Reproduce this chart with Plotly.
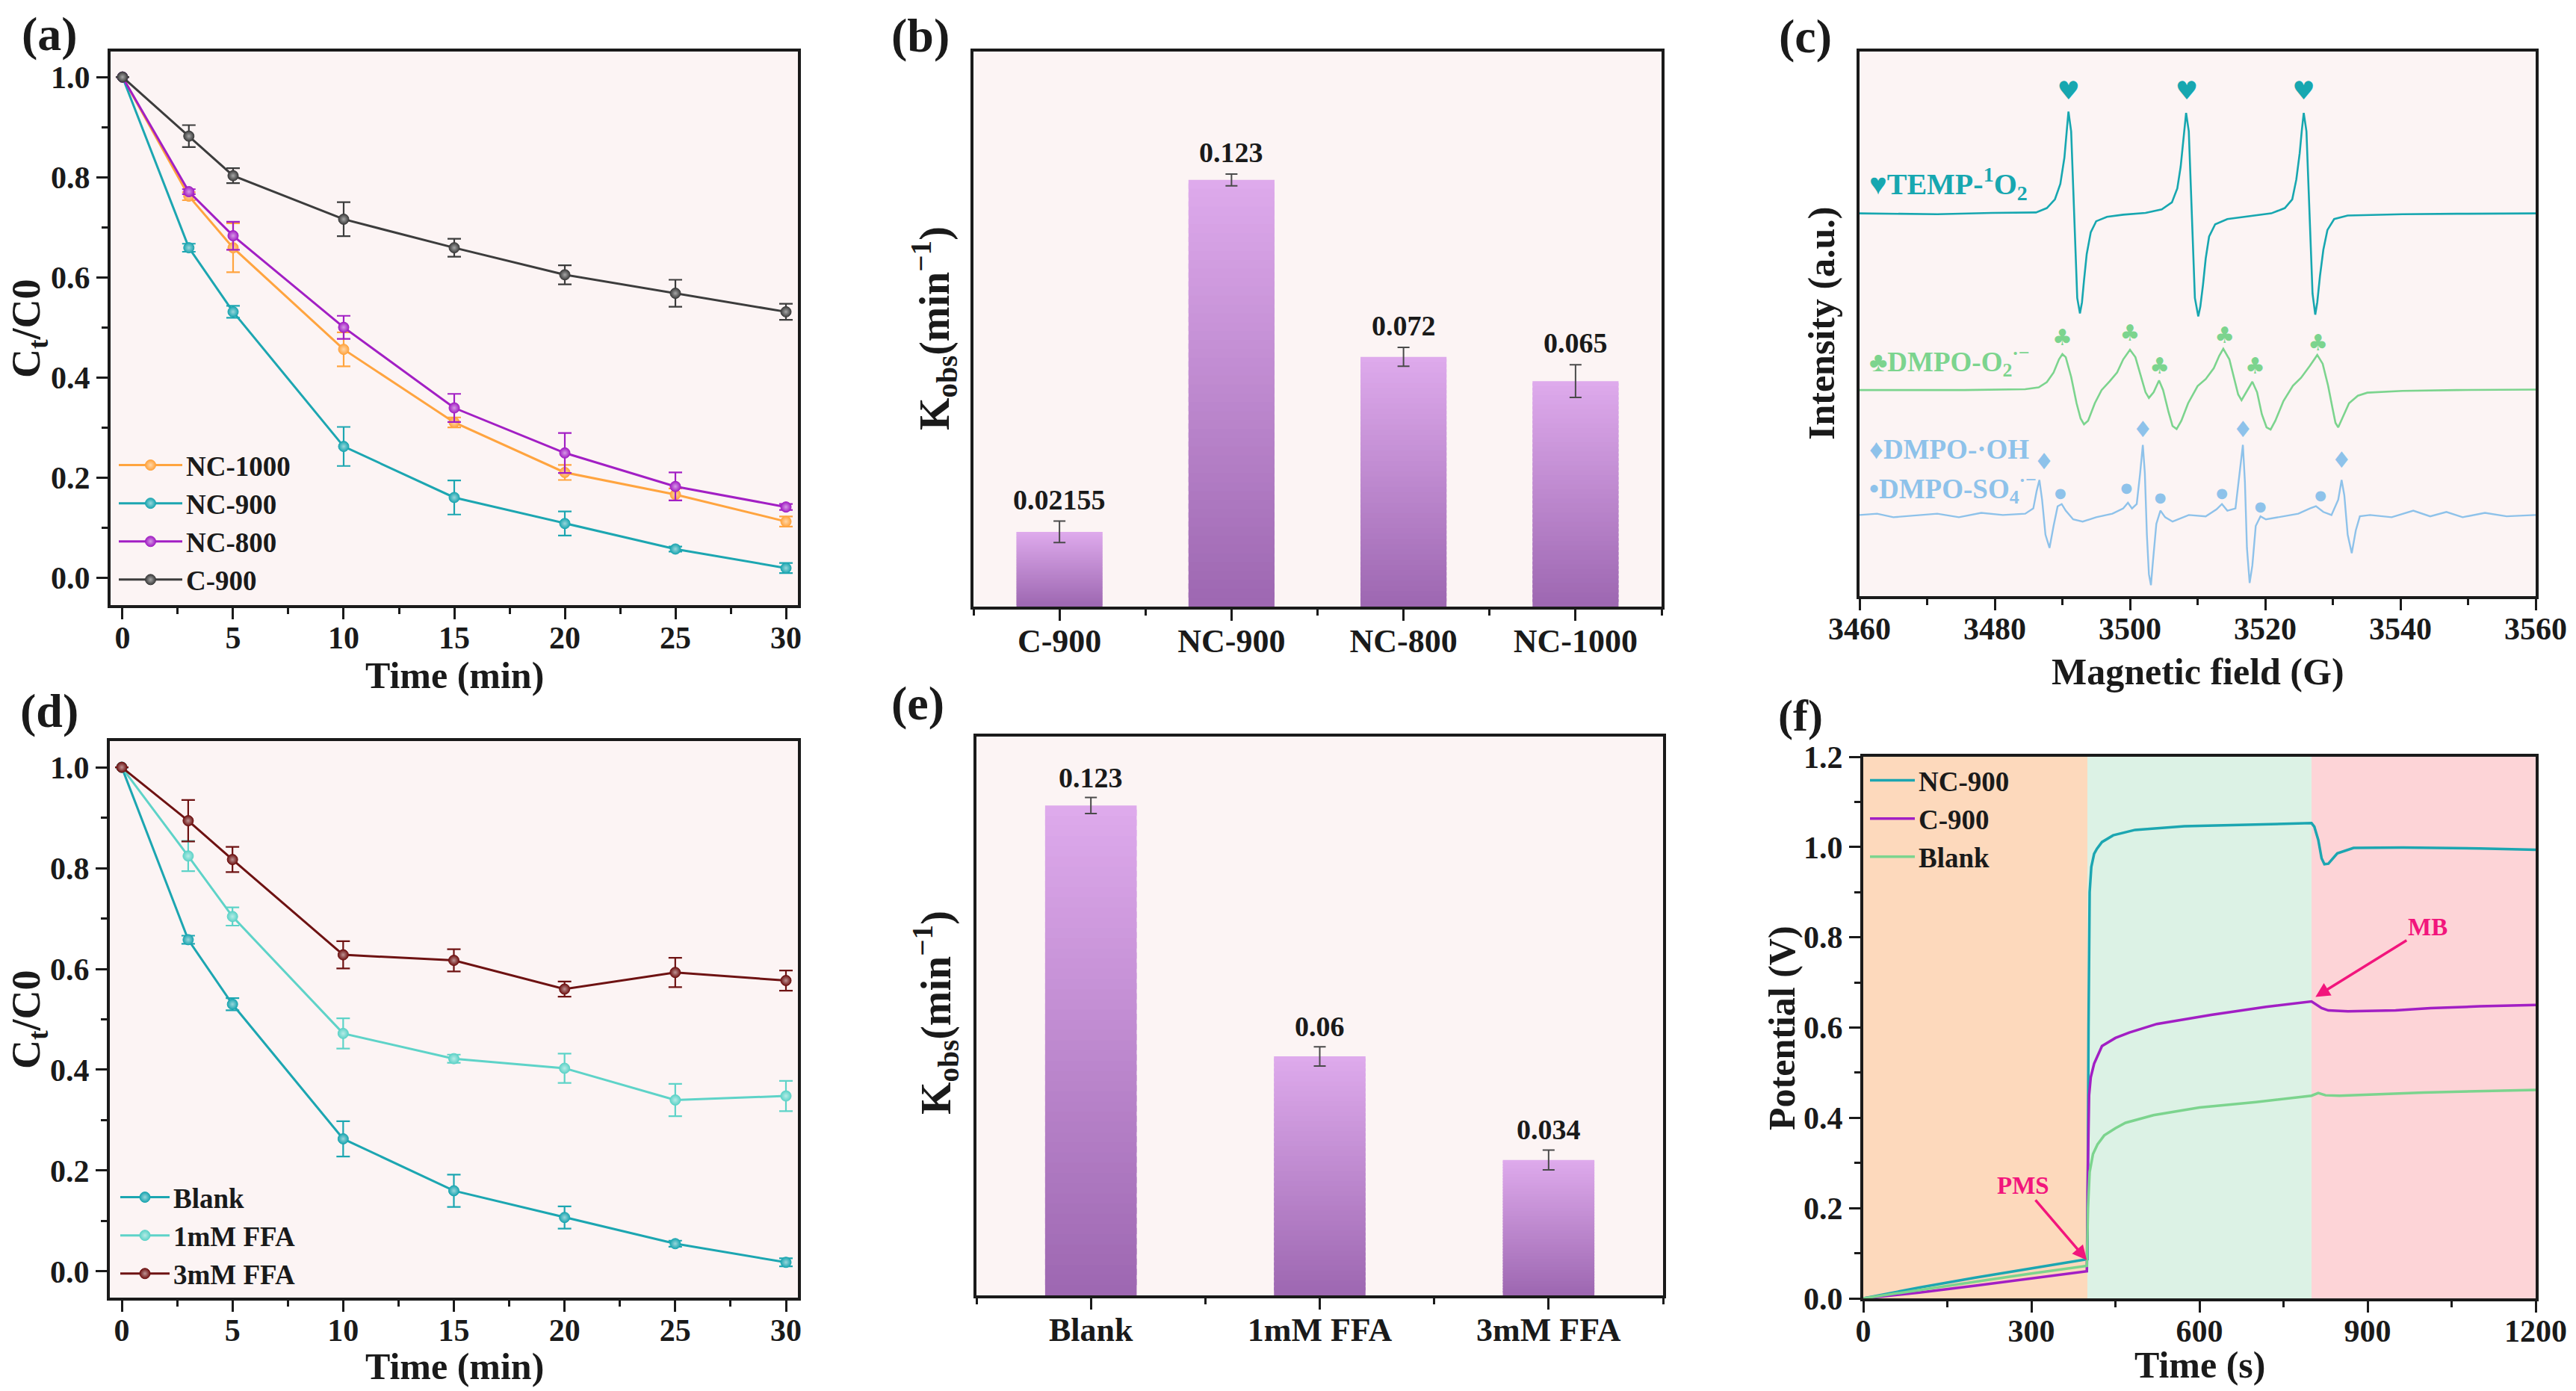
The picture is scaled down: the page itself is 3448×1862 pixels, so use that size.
import plotly.graph_objects as go

FONT = "Liberation Serif"
INK = "#1a1a1a"
W, H = 3448, 1862

# ---------------- (a) degradation curves ----------------
time_min = [0, 3, 5, 10, 15, 20, 25, 30]
a_names = ["NC-1000", "NC-900", "NC-800", "C-900"]
nc1000 = [1.0, 0.762, 0.659, 0.456, 0.310, 0.210, 0.166, 0.112]
nc1000_err = [0, 0.008, 0.049, 0.034, 0.010, 0.015, 0.012, 0.010]
nc900 = [1.0, 0.659, 0.531, 0.262, 0.160, 0.108, 0.057, 0.019]
nc900_err = [0, 0.008, 0.012, 0.039, 0.034, 0.024, 0.005, 0.010]
nc800 = [1.0, 0.771, 0.683, 0.500, 0.339, 0.249, 0.182, 0.141]
nc800_err = [0, 0.005, 0.028, 0.023, 0.028, 0.040, 0.028, 0.006]
c900 = [1.0, 0.882, 0.803, 0.716, 0.659, 0.605, 0.568, 0.531]
c900_err = [0, 0.022, 0.015, 0.034, 0.018, 0.019, 0.027, 0.016]

# ---------------- (b) rate constants ----------------
b_cats = ["C-900", "NC-900", "NC-800", "NC-1000"]
b_k = [0.02155, 0.123, 0.072, 0.065]
b_err = [0.0031, 0.0017, 0.0027, 0.0047]
b_labels = ["0.02155", "0.123", "0.072", "0.065"]

# ---------------- (c) EPR spectra ----------------
temp_G = [3460.0, 3471.5, 3479.6, 3486.1, 3487.7, 3488.9, 3489.7, 3490.3, 3490.7, 3490.9,
          3491.3, 3491.6, 3491.9, 3492.2, 3492.6, 3492.9, 3493.2, 3493.6, 3494.2, 3495.0,
          3496.6, 3499.0, 3502.3, 3504.7, 3506.2, 3507.0, 3507.5, 3507.9, 3508.3, 3508.7,
          3509.0, 3509.3, 3509.6, 3510.1, 3510.4, 3510.8, 3511.2, 3511.7, 3512.6, 3514.4,
          3517.7, 3520.9, 3522.9, 3524.0, 3524.6, 3525.1, 3525.4, 3525.7, 3526.1, 3526.4,
          3526.7, 3527.0, 3527.4, 3527.7, 3528.1, 3528.6, 3529.2, 3530.2, 3532.2, 3540.3,
          3548.4, 3560.0]
temp_I = [8.73, 8.71, 8.74, 8.75, 8.85, 9.05, 9.40, 10.0, 10.7, 11.05,
          10.6, 9.4, 8.0, 6.8, 6.45, 6.7, 7.2, 7.8, 8.3, 8.55,
          8.65, 8.70, 8.74, 8.82, 8.98, 9.3, 9.8, 10.4, 11.02, 10.6,
          9.3, 7.9, 6.8, 6.38, 6.6, 7.1, 7.7, 8.2, 8.48, 8.6,
          8.67, 8.73, 8.85, 9.05, 9.5, 10.1, 10.6, 11.02, 10.6, 9.3,
          8.0, 6.9, 6.42, 6.7, 7.3, 7.9, 8.35, 8.6, 8.68, 8.71,
          8.72, 8.73]

o2_G = [3460.0, 3475.5, 3484.5, 3486.5, 3487.7, 3488.7, 3489.5, 3490.0, 3490.5, 3491.3,
        3492.1, 3492.7, 3493.2, 3493.8, 3494.8, 3495.8, 3497.0, 3498.1, 3499.0, 3500.0,
        3500.8, 3501.6, 3502.3, 3502.8, 3503.5, 3504.3, 3504.9, 3505.7, 3506.3, 3506.9,
        3507.6, 3508.6, 3510.0, 3511.2, 3512.4, 3513.2, 3513.8, 3514.7, 3515.5, 3516.0,
        3516.5, 3517.2, 3518.1, 3518.8, 3519.5, 3520.2, 3520.8, 3521.5, 3522.7, 3524.1,
        3525.3, 3526.6, 3527.7, 3528.5, 3529.3, 3530.0, 3530.4, 3530.8, 3531.4, 3532.4,
        3533.7, 3535.1, 3540.3, 3548.4, 3560.0]
o2_I = [4.70, 4.70, 4.72, 4.76, 4.88, 5.10, 5.40, 5.52, 5.45, 5.00,
        4.40, 4.05, 3.92, 4.00, 4.40, 4.70, 4.90, 5.10, 5.40, 5.62,
        5.45, 5.00, 4.65, 4.52, 4.65, 4.92, 4.70, 4.20, 3.88, 3.81,
        4.00, 4.40, 4.79, 4.95, 5.20, 5.48, 5.64, 5.40, 4.90, 4.60,
        4.47, 4.65, 4.89, 4.65, 4.15, 3.85, 3.80, 4.00, 4.45, 4.80,
        4.98, 5.25, 5.50, 5.30, 4.80, 4.25, 3.95, 3.85, 4.05, 4.40,
        4.57, 4.64, 4.68, 4.70, 4.71]

oh_G = [3460.0, 3462.6, 3465.0, 3468.3, 3471.5, 3474.7, 3478.0, 3481.2, 3484.5, 3485.7,
        3486.2, 3486.6, 3487.0, 3487.5, 3488.1, 3488.7, 3489.3, 3489.9, 3490.5, 3491.6,
        3493.0, 3495.0, 3497.4, 3499.0, 3499.7, 3500.3, 3501.0, 3501.5, 3501.9, 3502.2,
        3502.5, 3502.8, 3503.1, 3503.4, 3503.9, 3504.5, 3505.2, 3506.3, 3508.7, 3511.2,
        3512.8, 3513.6, 3514.4, 3515.6, 3516.2, 3516.7, 3517.0, 3517.3, 3517.7, 3518.1,
        3518.6, 3519.3, 3520.1, 3522.5, 3524.9, 3526.6, 3527.5, 3528.6, 3529.8, 3530.8,
        3531.3, 3531.7, 3532.2, 3532.8, 3533.4, 3534.0, 3535.5, 3538.7, 3541.9, 3544.4,
        3546.8, 3549.2, 3552.5, 3555.7, 3560.0]
oh_I = [1.85, 1.88, 1.80, 1.84, 1.88, 1.80, 1.90, 1.85, 1.88, 2.00,
        2.40, 2.65, 2.20, 1.40, 1.10, 1.60, 2.05, 2.10, 1.95, 1.75,
        1.70, 1.80, 1.88, 2.00, 2.13, 2.00, 2.10, 2.80, 3.45, 2.80,
        1.40, 0.50, 0.25, 0.80, 1.65, 1.95, 1.80, 1.70, 1.85, 1.82,
        1.98, 2.10, 1.95, 2.00, 2.80, 3.45, 2.60, 1.10, 0.30, 0.70,
        1.60, 1.82, 1.75, 1.82, 1.88, 2.00, 2.05, 1.92, 1.85, 2.20,
        2.65, 2.30, 1.40, 0.98, 1.50, 1.82, 1.85, 1.80, 1.95, 1.82,
        1.92, 1.80, 1.90, 1.82, 1.85]

heart_G = [3490.9, 3508.4, 3525.7]
heart_I = [11.48, 11.48, 11.48]
club_G = [3490.0, 3500.0, 3504.4, 3514.0, 3518.5, 3527.8]
club_I = [5.85, 5.95, 5.20, 5.90, 5.20, 5.73]
diamond_G = [3487.3, 3501.9, 3516.7, 3531.3]
diamond_I = [3.02, 3.75, 3.75, 3.05]
dot_G = [3489.7, 3499.5, 3504.5, 3513.6, 3519.3, 3528.2]
dot_I = [2.32, 2.45, 2.23, 2.32, 2.02, 2.27]

# ---------------- (d) quenching ----------------
d_names = ["Blank", "1mM FFA", "3mM FFA"]
d_blank = [1.0, 0.658, 0.530, 0.263, 0.160, 0.107, 0.055, 0.018]
d_blank_err = [0, 0.008, 0.012, 0.035, 0.032, 0.022, 0.006, 0.008]
ffa1 = [1.0, 0.824, 0.704, 0.472, 0.422, 0.403, 0.340, 0.348]
ffa1_err = [0, 0.030, 0.018, 0.030, 0.008, 0.029, 0.032, 0.030]
ffa3 = [1.0, 0.894, 0.817, 0.628, 0.617, 0.560, 0.593, 0.577]
ffa3_err = [0, 0.041, 0.025, 0.027, 0.022, 0.015, 0.029, 0.020]

# ---------------- (e) rate constants with FFA ----------------
e_cats = ["Blank", "1mM FFA", "3mM FFA"]
e_k = [0.123, 0.06, 0.034]
e_err = [0.0020, 0.0024, 0.0025]
e_labels = ["0.123", "0.06", "0.034"]

# ---------------- (f) open-circuit potential ----------------
f_regions = [0, 400, 800, 1200]
nc900_t = [0, 100, 200, 300, 398, 400, 402, 404, 407, 412, 417, 426, 446, 485, 573, 719,
           800, 805, 812, 818, 823, 830, 846, 875, 963, 1100, 1200]
nc900_v = [0.0, 0.024, 0.046, 0.066, 0.087, 0.087, 0.60, 0.90, 0.956, 0.985, 0.996, 1.011,
           1.026, 1.038, 1.046, 1.051, 1.053, 1.045, 1.016, 0.975, 0.962, 0.963, 0.986,
           0.998, 0.999, 0.997, 0.994]
c900_t = [0, 100, 200, 300, 399, 401, 403, 406, 412, 426, 450, 475, 524, 621, 719, 800,
          808, 818, 830, 865, 950, 1012, 1100, 1200]
c900_v = [0.0, 0.013, 0.028, 0.044, 0.060, 0.30, 0.45, 0.49, 0.52, 0.559, 0.577, 0.589,
          0.608, 0.628, 0.646, 0.658, 0.652, 0.643, 0.638, 0.636, 0.638, 0.643, 0.647, 0.650]
blank_t = [0, 100, 200, 300, 399, 401, 404, 410, 418, 430, 450, 468, 518, 600, 701, 800,
           812, 825, 850, 1000, 1200]
blank_v = [0.0, 0.019, 0.037, 0.055, 0.072, 0.20, 0.28, 0.32, 0.341, 0.361, 0.377, 0.389,
           0.406, 0.423, 0.435, 0.449, 0.455, 0.450, 0.449, 0.456, 0.462]
f_names = ["NC-900", "C-900", "Blank"]

# ================= figure =================
def px_x(v):
    return v / W


def px_y(v):
    return 1 - v / H


def lighten(hexc, f=0.55):
    h = hexc.lstrip("#")
    r, g, b = int(h[0:2], 16), int(h[2:4], 16), int(h[4:6], 16)
    r = int(r + (255 - r) * f); g = int(g + (255 - g) * f); b = int(b + (255 - b) * f)
    return f"rgb({r},{g},{b})"


fig = go.Figure()


def curve(x, y, err, name, color, xa, ya, leg):
    fig.add_trace(go.Scatter(
        x=x, y=y, name=name, mode="lines+markers", xaxis=xa, yaxis=ya, legend=leg,
        line=dict(color=color, width=3),
        marker=dict(symbol="circle", size=14, color=color,
                    line=dict(width=1, color=color),
                    gradient=dict(type="radial", color=lighten(color))),
        error_y=dict(type="data", array=err, visible=True, color=color,
                     thickness=2.2, width=9)))


C_ORANGE = "#FFA43F"
C_TEAL = "#1CA6B1"
C_PURPLE = "#A21FC4"
C_GRAY = "#3C3C3C"
C_LTEAL = "#5ED3C8"
C_MAROON = "#6E1212"
C_GREEN = "#7CD48E"
C_BLUE = "#8EC2EA"

# (a)
curve(time_min, nc1000, nc1000_err, a_names[0], C_ORANGE, "x", "y", "legend")
curve(time_min, nc900, nc900_err, a_names[1], C_TEAL, "x", "y", "legend")
curve(time_min, nc800, nc800_err, a_names[2], C_PURPLE, "x", "y", "legend")
curve(time_min, c900, c900_err, a_names[3], C_GRAY, "x", "y", "legend")

# (d)
curve(time_min, d_blank, d_blank_err, d_names[0], C_TEAL, "x4", "y4", "legend2")
curve(time_min, ffa1, ffa1_err, d_names[1], C_LTEAL, "x4", "y4", "legend2")
curve(time_min, ffa3, ffa3_err, d_names[2], C_MAROON, "x4", "y4", "legend2")

# gradient bars (b) and (e)
NSEG = 48
BOT = (158, 104, 178)
TOP = (222, 170, 236)


def grad(f):
    return "rgb(%d,%d,%d)" % tuple(int(BOT[i] + (TOP[i] - BOT[i]) * f) for i in range(3))


annotations = []


def bars(vals, errs, labels, xa, ya, width, yshift):
    xs, bases, hs, cols = [], [], [], []
    for i, v in enumerate(vals):
        for j in range(NSEG):
            xs.append(i)
            bases.append(v * j / NSEG)
            hs.append(v / NSEG * (1.6 if j < NSEG - 1 else 1.0))
            cols.append(grad(j / (NSEG - 1)))
    fig.add_trace(go.Bar(x=xs, y=hs, base=bases, width=width, xaxis=xa, yaxis=ya,
                         marker=dict(color=cols, line=dict(width=0)),
                         showlegend=False, hoverinfo="skip"))
    fig.add_trace(go.Scatter(x=list(range(len(vals))), y=vals, mode="markers",
                             xaxis=xa, yaxis=ya, showlegend=False,
                             marker=dict(size=1, color="rgba(0,0,0,0)"),
                             error_y=dict(type="data", array=errs, color="#4a4a4a",
                                          thickness=2, width=8)))
    for i, (v, e, t) in enumerate(zip(vals, errs, labels)):
        annotations.append(dict(x=i, y=v + e, xref=xa, yref=ya, text=t, showarrow=False,
                                yanchor="bottom", yshift=yshift,
                                font=dict(family=FONT, size=38, color=INK, weight="bold")))


bars(b_k, b_err, b_labels, "x2", "y2", 0.5, 6)
bars(e_k, e_err, e_labels, "x5", "y5", 0.4, 4)

# (c) spectra
fig.add_trace(go.Scatter(x=temp_G, y=temp_I, mode="lines", xaxis="x3", yaxis="y3",
                         line=dict(color="#17A7B0", width=2.6), showlegend=False))
fig.add_trace(go.Scatter(x=o2_G, y=o2_I, mode="lines", xaxis="x3", yaxis="y3",
                         line=dict(color=C_GREEN, width=2.6), showlegend=False))
fig.add_trace(go.Scatter(x=oh_G, y=oh_I, mode="lines", xaxis="x3", yaxis="y3",
                         line=dict(color=C_BLUE, width=2.4), showlegend=False))
for gx, gy, sym, col, sz in [(heart_G, heart_I, "♥", "#17A7B0", 34),
                             (club_G, club_I, "♣", C_GREEN, 30),
                             (diamond_G, diamond_I, "♦", C_BLUE, 30),
                             (dot_G, dot_I, "●", C_BLUE, 18)]:
    fig.add_trace(go.Scatter(x=gx, y=gy, mode="text", text=[sym] * len(gx), xaxis="x3",
                             yaxis="y3", showlegend=False,
                             textfont=dict(family="DejaVu Sans", size=sz, color=col)))

# (f) potential
fig.add_trace(go.Scatter(x=nc900_t, y=nc900_v, mode="lines", name=f_names[0], xaxis="x6",
                         yaxis="y6", legend="legend3", line=dict(color=C_TEAL, width=3.5)))
fig.add_trace(go.Scatter(x=c900_t, y=c900_v, mode="lines", name=f_names[1], xaxis="x6",
                         yaxis="y6", legend="legend3", line=dict(color=C_PURPLE, width=3.5)))
fig.add_trace(go.Scatter(x=blank_t, y=blank_v, mode="lines", name=f_names[2], xaxis="x6",
                         yaxis="y6", legend="legend3", line=dict(color=C_GREEN, width=3.5)))

shapes = []
for (x0, x1), col in zip(zip(f_regions[:-1], f_regions[1:]), ["#FDD9BC", "#DCF2E5", "#FDD4D7"]):
    shapes.append(dict(type="rect", xref="x6", yref="y6 domain", x0=x0, x1=x1, y0=0, y1=1,
                       fillcolor=col, line=dict(width=0), layer="below"))

# ---------- axes ----------
TICKF = dict(family=FONT, size=42, color=INK, weight="bold")


def ax(domain, rng, **kw):
    d = dict(domain=domain, range=rng, showline=True, linewidth=4, linecolor=INK, mirror=True,
             ticks="outside", ticklen=15, tickwidth=3, tickcolor=INK, showgrid=False,
             zeroline=False, tickfont=TICKF, automargin=False)
    d.update(kw)
    return d


def xax(domain, rng, **kw):
    return ax(domain, rng, ticklabelstandoff=-11, **kw)


def minor(dt):
    return dict(ticks="outside", ticklen=8, tickwidth=3, tickcolor=INK, dtick=dt, showgrid=False)


AX = [px_x(148), px_x(1068)]
BX = [px_x(1303), px_x(2224)]
CX = [px_x(2489), px_x(3394)]
DX = [px_x(147), px_x(1068)]
EX = [px_x(1307), px_x(2226)]
FX = [px_x(2494), px_x(3394)]
AY = [px_y(810), px_y(69)]
BY = [px_y(812), px_y(69)]
CY = [px_y(798), px_y(69)]
DY = [px_y(1737), px_y(992)]
EY = [px_y(1734), px_y(986)]
FY = [px_y(1738), px_y(1013)]

fig.update_layout(
    xaxis=xax(AX, [-0.54, 30.54], anchor="y", dtick=5, tick0=0, minor=minor(2.5)),
    yaxis=ax(AY, [-0.055, 1.051], anchor="x", dtick=0.2, tick0=0, tickformat=".1f", minor=minor(0.1)),
    xaxis2=xax(BX, [-0.5, 3.5], anchor="y2", tickmode="array", tickvals=list(range(len(b_cats))),
               ticktext=b_cats, minor=minor(0.5), tickfont=dict(TICKF, size=44)),
    yaxis2=ax(BY, [0, 0.16], anchor="x2", ticks="", showticklabels=False),
    xaxis3=xax(CX, [3460, 3560], anchor="y3", dtick=20, tick0=3460, minor=minor(10)),
    yaxis3=ax(CY, [0, 12.42], anchor="x3", ticks="", showticklabels=False),
    xaxis4=xax(DX, [-0.54, 30.54], anchor="y4", dtick=5, tick0=0, minor=minor(2.5)),
    yaxis4=ax(DY, [-0.052, 1.052], anchor="x4", dtick=0.2, tick0=0, tickformat=".1f", minor=minor(0.1)),
    xaxis5=xax(EX, [-0.5, 2.5], anchor="y5", tickmode="array", tickvals=list(range(len(e_cats))),
               ticktext=e_cats, minor=minor(0.5), tickfont=dict(TICKF, size=44)),
    yaxis5=ax(EY, [0, 0.1403], anchor="x5", ticks="", showticklabels=False),
    xaxis6=xax(FX, [0, 1200], anchor="y6", dtick=300, tick0=0, minor=minor(150)),
    yaxis6=ax(FY, [0, 1.2], anchor="x6", dtick=0.2, tick0=0, tickformat=".1f", minor=minor(0.1)),
)

# ---------- titles / labels ----------
def paper_text(x, y, text, size=50, angle=0, color=INK, xanchor="center"):
    annotations.append(dict(x=px_x(x), y=px_y(y), xref="paper", yref="paper", text=text,
                            showarrow=False, textangle=angle, xanchor=xanchor, yanchor="middle",
                            font=dict(family=FONT, size=size, color=color, weight="bold")))


for lab, (x, y), sz in zip(["(a)", "(b)", "(c)", "(d)", "(e)", "(f)"],
                           [(66, 45), (1232, 47), (2416, 48), (66, 951), (1228, 942), (2410, 958)],
                           [64, 64, 64, 64, 64, 60]):
    paper_text(x, y, lab, size=sz)

paper_text(608, 904, "Time (min)")
paper_text(608, 1829, "Time (min)")
paper_text(2942, 899, "Magnetic field (G)")
paper_text(2944, 1827, "Time (s)")
paper_text(38, 440, "C<sub>t</sub>/C0", size=54, angle=-90)
paper_text(38, 1365, "C<sub>t</sub>/C0", size=54, angle=-90)
paper_text(1250, 440, "K<sub>obs</sub>(min<sup>−1</sup>)", size=56, angle=-90)
paper_text(1252, 1356, "K<sub>obs</sub>(min<sup>−1</sup>)", size=56, angle=-90)
paper_text(2438, 433, "Intensity (a.u.)", angle=-90)
paper_text(2385, 1376, "Potential (V)", angle=-90)

# spectrum labels in (c)
for txt, yv, col, sz in [("♥TEMP-<sup>1</sup>O<sub>2</sub>", 9.4, "#17A7B0", 40),
                         ("♣DMPO-O<sub>2</sub><sup>·−</sup>", 5.35, C_GREEN, 37),
                         ("♦DMPO-·OH", 3.35, C_BLUE, 37),
                         ("•DMPO-SO<sub>4</sub><sup>·−</sup>", 2.45, C_BLUE, 37)]:
    annotations.append(dict(x=3461.2, y=yv, xref="x3", yref="y3", text=txt, showarrow=False,
                            xanchor="left", yanchor="middle",
                            font=dict(family=FONT, size=sz, color=col, weight="bold")))

# arrows in (f)
PINK = "#F2157C"
annotations.append(dict(x=399, y=0.085, xref="x6", yref="y6", ax=285, ay=0.25, axref="x6",
                        ayref="y6", text="PMS", showarrow=True, arrowhead=2, arrowsize=1.1,
                        arrowwidth=3.5, arrowcolor=PINK,
                        font=dict(family=FONT, size=33, color=PINK, weight="bold")))
annotations.append(dict(x=807, y=0.668, xref="x6", yref="y6", ax=1007, ay=0.822, axref="x6",
                        ayref="y6", text="MB", showarrow=True, arrowhead=2, arrowsize=1.1,
                        arrowwidth=3.5, arrowcolor=PINK,
                        font=dict(family=FONT, size=33, color=PINK, weight="bold")))

LEGF = dict(family=FONT, size=37, color=INK, weight="bold")
leg_common = dict(bgcolor="rgba(0,0,0,0)", borderwidth=0, font=LEGF, xanchor="left",
                  yanchor="top", tracegroupgap=0)

fig.update_layout(
    width=W, height=H, margin=dict(l=0, r=0, t=0, b=0, autoexpand=False),
    paper_bgcolor="white", plot_bgcolor="#FCF4F4",
    font=dict(family=FONT, size=40, color=INK, weight="bold"),
    barmode="overlay",
    showlegend=True,
    legend=dict(leg_common, x=px_x(154), y=px_y(592), itemwidth=85),
    legend2=dict(leg_common, x=px_x(156), y=px_y(1572), itemwidth=66),
    legend3=dict(leg_common, x=px_x(2498), y=px_y(1014), itemwidth=60),
    annotations=annotations,
    shapes=shapes,
)

fig.write_html("out.html")
